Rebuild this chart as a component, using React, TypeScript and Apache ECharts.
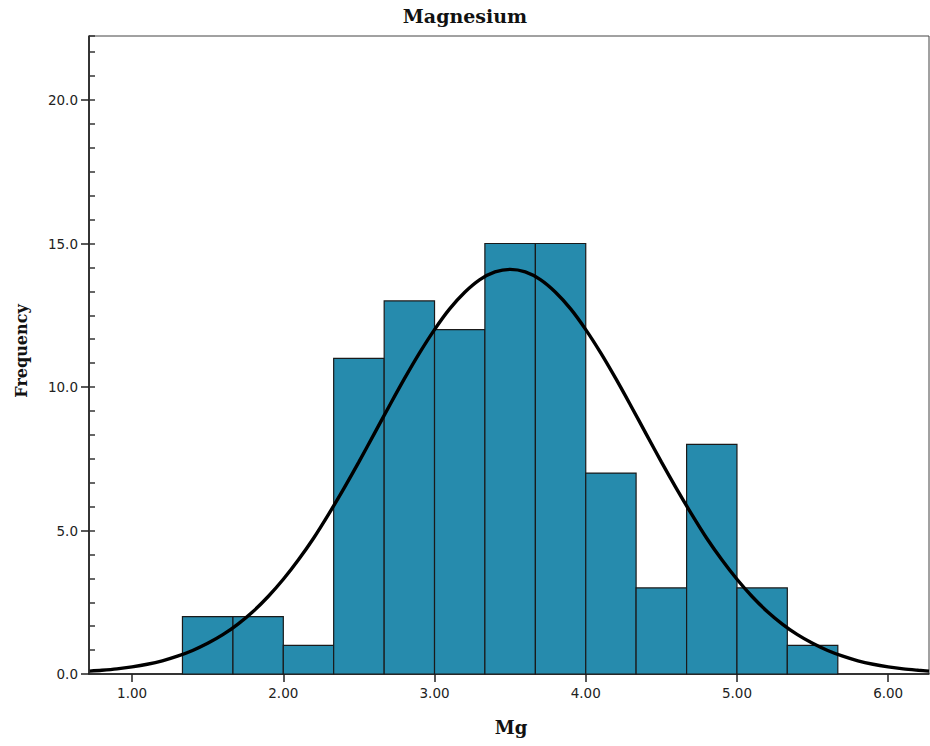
import React, { useEffect, useRef } from "react";
import * as echarts from "echarts";

const binEdges = [1.333, 1.667, 2.0, 2.333, 2.667, 3.0, 3.333, 3.667, 4.0, 4.333, 4.667, 5.0, 5.333, 5.667];
const binCounts = [2, 2, 1, 11, 13, 12, 15, 15, 7, 3, 8, 3, 1];

const curveX = [
  0.72, 0.8, 0.9, 1.0, 1.1, 1.2, 1.3, 1.4, 1.5, 1.6, 1.7, 1.8, 1.9, 2.0, 2.1, 2.2, 2.3, 2.4, 2.5, 2.6, 2.7, 2.8, 2.9,
  3.0, 3.1, 3.2, 3.3, 3.4, 3.5, 3.6, 3.7, 3.8, 3.9, 4.0, 4.1, 4.2, 4.3, 4.4, 4.5, 4.6, 4.7, 4.8, 4.9, 5.0, 5.1, 5.2,
  5.3, 5.4, 5.5, 5.6, 5.7, 5.8, 5.9, 6.0, 6.1, 6.2, 6.27,
];
const curveY = [
  0.1, 0.13, 0.18, 0.25, 0.34, 0.46, 0.62, 0.82, 1.07, 1.37, 1.74, 2.18, 2.7, 3.3, 3.98, 4.73, 5.57, 6.46, 7.39, 8.36,
  9.33, 10.28, 11.18, 12.0, 12.72, 13.3, 13.74, 14.01, 14.1, 14.01, 13.74, 13.3, 12.72, 12.0, 11.18, 10.28, 9.33, 8.36,
  7.39, 6.46, 5.57, 4.73, 3.98, 3.3, 2.7, 2.18, 1.74, 1.37, 1.07, 0.82, 0.62, 0.46, 0.34, 0.25, 0.18, 0.13, 0.1,
];

const xTicks = [1, 2, 3, 4, 5, 6];
const yTicks = [0, 5, 10, 15, 20];

const xMin = 0.715;
const xMax = 6.27;
const yMax = 22.23;

export default function App() {
  const ref = useRef<HTMLDivElement>(null);
  useEffect(() => {
    if (!ref.current) return;
    const chart = echarts.init(ref.current, null, { renderer: "svg" });
    const histData = binCounts.map((c, i) => [binEdges[i], binEdges[i + 1], c]);
    const lineData = curveX.map((x, i) => [x, curveY[i]]);
    const labelStyle = { color: "#222", fontFamily: "DejaVu Sans", fontSize: 13.5 };
    chart.setOption({
      animation: false,
      backgroundColor: "#fff",
      grid: { left: 89, right: 1, top: 36, bottom: 72, show: true, borderColor: "#444", borderWidth: 1, backgroundColor: "transparent" },
      graphic: [
        { type: "text", left: "center", top: 6, style: { text: "Magnesium", font: "bold 19px 'DejaVu Serif'", fill: "#111" } },
        { type: "text", x: 511, y: 727, style: { text: "Mg", font: "bold 18px 'DejaVu Serif'", fill: "#111", align: "center", verticalAlign: "middle" } },
        { type: "text", x: 21, y: 351, rotation: Math.PI / 2, style: { text: "Frequency", font: "bold 16px 'DejaVu Serif'", fill: "#111", align: "center", verticalAlign: "middle" } },
      ],
      xAxis: {
        type: "value",
        min: xMin,
        max: xMax,
        axisLine: { show: true, onZero: false, lineStyle: { color: "#111", width: 1.5 } },
        axisTick: { show: true, length: 8, customValues: xTicks, lineStyle: { color: "#222", width: 1.5 } },
        axisLabel: { ...labelStyle, margin: 12, customValues: xTicks, formatter: (v: number) => v.toFixed(2) },
        splitLine: { show: false },
      },
      yAxis: [
        {
          type: "value",
          min: 0,
          max: yMax,
          axisLine: { show: true, lineStyle: { color: "#111", width: 1.5 } },
          axisTick: { show: true, length: 8, customValues: yTicks, lineStyle: { color: "#222", width: 1.5 } },
          axisLabel: { ...labelStyle, margin: 11, customValues: yTicks, formatter: (v: number) => v.toFixed(1) },
          splitLine: { show: false },
        },
        {
          type: "value",
          min: 0,
          max: yMax,
          position: "left",
          interval: 5 / 6,
          axisLine: { show: false },
          axisTick: { show: true, inside: true, length: 6, lineStyle: { color: "#333", width: 1.5 } },
          axisLabel: { show: false },
          splitLine: { show: false },
        },
      ],
      series: [
        {
          type: "custom",
          data: histData,
          encode: { x: [0, 1], y: 2 },
          renderItem: (params: any, api: any) => {
            const p0 = api.coord([api.value(0), 0]);
            const p1 = api.coord([api.value(1), api.value(2)]);
            return {
              type: "rect",
              shape: { x: p0[0], y: p1[1], width: p1[0] - p0[0], height: p0[1] - p1[1] },
              style: { fill: "#268bad", stroke: "#1a1a1a", lineWidth: 1.2 },
            };
          },
        },
        {
          type: "line",
          data: lineData,
          smooth: 0.3,
          showSymbol: false,
          symbol: "none",
          lineStyle: { color: "#000", width: 3.4 },
          z: 5,
        },
      ],
    });
    return () => chart.dispose();
  }, []);
  return <div ref={ref} style={{ position: "absolute", left: 0, top: 0, width: 930, height: 746 }} />;
}
